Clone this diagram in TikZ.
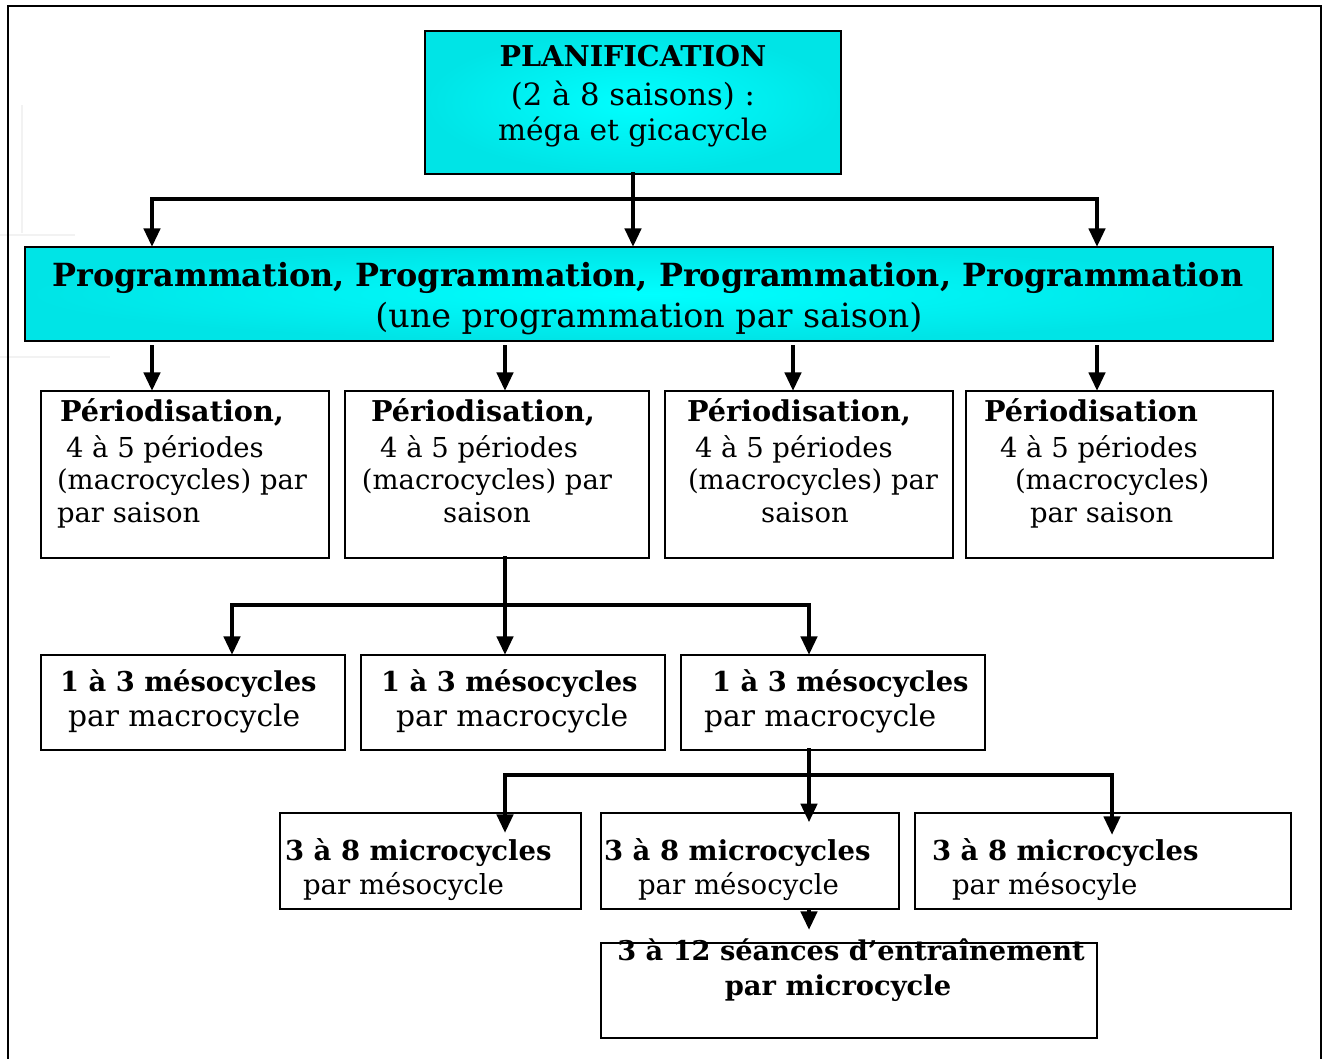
\documentclass[tikz,border=0pt]{standalone}
\usepackage{fontspec}
\setmainfont{DejaVu Serif}
\usetikzlibrary{arrows.meta,fit}
\definecolor{cyanin}{RGB}{0,255,255}
\definecolor{cyanout}{RGB}{0,228,230}
\definecolor{faint}{RGB}{242,242,242}
\begin{document}
\begin{tikzpicture}[x=0.75pt,y=-0.75pt,
  box/.style={draw=black,line width=1.3pt,inner sep=0pt,outer sep=0pt},
  cbox/.style={box,shading=radial,inner color=cyanin,outer color=cyanout},
  tx/.style={inner sep=0pt,outer sep=0pt,yshift=-2.5pt,execute at begin node=\strut},
  B/.style={font=\fontsize{#1}{#1}\selectfont\bfseries},
  R/.style={font=\fontsize{#1}{#1}\selectfont},
  conn/.style={line width=3.6pt,line cap=rect},
  arr/.style={line width=3.3pt,-{Triangle[width=12pt,length=14pt]}}]
\useasboundingbox (0,0) rectangle (1326,1058);
% faint artefacts and frame
\draw[faint,line width=1.5pt] (22,105) -- (22,233) (0,235) -- (75,235) (0,357) -- (110,357);
\draw[line width=1.6pt] (8,1064) -- (8,6) -- (1321,6) -- (1321,1064);

% boxes
\node[cbox,fit={(425,31)(841,174)}] (plan) {};
\node[cbox,fit={(25,247)(1273,341)}] (prog) {};
\node[box,fit={(41,391)(329,558)}] (per1) {};
\node[box,fit={(345,391)(649,558)}] (per2) {};
\node[box,fit={(665,391)(953,558)}] (per3) {};
\node[box,fit={(966,391)(1273,558)}] (per4) {};
\node[box,fit={(41,655)(345,750)}] (meso1) {};
\node[box,fit={(361,655)(665,750)}] (meso2) {};
\node[box,fit={(681,655)(985,750)}] (meso3) {};
\node[box,fit={(280,813)(581,909)}] (micro1) {};
\node[box,fit={(601,813)(899,909)}] (micro2) {};
\node[box,fit={(915,813)(1291,909)}] (micro3) {};
\node[box,fit={(601,943)(1097,1038)}] (seance) {};

% texts
\node[tx,B=21.5] (planA) at (633,57) {PLANIFICATION};
\node[tx,R=23] (planB) at (633,95) {(2 à 8 saisons) :};
\node[tx,R=22.2] (planC) at (633,130) {méga et gicacycle};
\node[tx,B=23.9] (progA) at (648,276) {Programmation, Programmation, Programmation, Programmation};
\node[tx,R=25] (progB) at (649,316) {(une programmation par saison)};

\tikzset{PB/.style={B=21.5},PR/.style={R=20.6},MB/.style={B=20.5},MR/.style={R=22.3},CB/.style={B=20.6},CR/.style={R=20.7}}
\node[tx,PB,anchor=west] (p1a) at (60,411) {Périodisation,};
\node[tx,PR,anchor=west] (p1b) at (66,447) {4 à 5 périodes};
\node[tx,PR,anchor=west] (p1c) at (57,480) {(macrocycles) par};
\node[tx,PR,anchor=west] (p1d) at (57,513) {par saison};
\node[tx,PB] (p2a) at (483,411) {Périodisation,};
\node[tx,PR] (p2b) at (479,447) {4 à 5 périodes};
\node[tx,PR] (p2c) at (487,480) {(macrocycles) par};
\node[tx,PR] (p2d) at (487,513) {saison};
\node[tx,PB,anchor=west] (p3a) at (687,411) {Périodisation,};
\node[tx,PR,anchor=west] (p3b) at (695,447) {4 à 5 périodes};
\node[tx,PR,anchor=west] (p3c) at (688,480) {(macrocycles) par};
\node[tx,PR] (p3d) at (805,513) {saison};
\node[tx,PB,anchor=west] (p4a) at (984,411) {Périodisation};
\node[tx,PR,anchor=west] (p4b) at (1000,447) {4 à 5 périodes};
\node[tx,PR,anchor=west] (p4c) at (1015,480) {(macrocycles)};
\node[tx,PR,anchor=west] (p4d) at (1030,513) {par saison};

\node[tx,MB,anchor=west] (m1a) at (60,681) {1 à 3 mésocycles};
\node[tx,MR,anchor=west] (m1b) at (68,716) {par macrocycle};
\node[tx,MB,anchor=west] (m2a) at (381,681) {1 à 3 mésocycles};
\node[tx,MR,anchor=west] (m2b) at (396,716) {par macrocycle};
\node[tx,MB,anchor=west] (m3a) at (712,681) {1 à 3 mésocycles};
\node[tx,MR,anchor=west] (m3b) at (704,716) {par macrocycle};

\node[tx,CB,anchor=west] (c1a) at (285,850) {3 à 8 microcycles};
\node[tx,CR,anchor=west] (c1b) at (303,884) {par mésocycle};
\node[tx,CB,anchor=west] (c2a) at (604,850) {3 à 8 microcycles};
\node[tx,CR,anchor=west] (c2b) at (638,884) {par mésocycle};
\node[tx,CB,anchor=west] (c3a) at (932,850) {3 à 8 microcycles};
\node[tx,CR,anchor=west] (c3b) at (952,884) {par mésocyle};

\node[tx,B=20.4] (s1) at (851,950) {3 à 12 séances d’entraînement};
\node[tx,B=20.5] (s2) at (838,986) {par microcycle};

% connectors level 1
\coordinate (j1) at (633,199);
\coordinate (j1L) at (152,199);
\coordinate (j1R) at (1097,199);
\draw[conn] (plan.south) -- (j1);
\draw[conn] (j1L) -- (j1R);
\draw[arr] (j1) -- (j1 |- prog.north);
\draw[arr] (j1L) -- (j1L |- prog.north);
\draw[arr] (j1R) -- (j1R |- prog.north);
% level 2
\draw[arr] ([yshift=-3pt]prog.south -| 152,0) -- (per1.north -| 152,0);
\draw[arr] ([yshift=-3pt]prog.south -| 505,0) -- (per2.north -| 505,0);
\draw[arr] ([yshift=-3pt]prog.south -| 793,0) -- (per3.north -| 793,0);
\draw[arr] ([yshift=-3pt]prog.south -| 1097,0) -- (per4.north -| 1097,0);
% level 3
\coordinate (j2) at (505,605);
\coordinate (j2L) at (232,605);
\coordinate (j2R) at (809,605);
\draw[conn] (per2.south -| j2) -- (j2);
\draw[conn] (j2L) -- (j2R);
\draw[arr] (j2L) -- (meso1.north -| j2L);
\draw[arr] (j2) -- (meso2.north -| j2);
\draw[arr] (j2R) -- (meso3.north -| j2R);
% level 4
\coordinate (j3) at (809,775);
\coordinate (j3L) at (505,775);
\coordinate (j3R) at (1112,775);
\draw[conn] (meso3.south -| j3) -- (j3);
\draw[conn] (j3L) -- (j3R);
\draw[arr] (j3L) -- ([yshift=-15pt]micro1.north -| j3L);
\draw[arr] (j3) -- ([yshift=-7pt]micro2.north -| j3);
\draw[arr] (j3R) -- ([yshift=-16.5pt]micro3.north -| j3R);
% level 5
\draw[arr] (micro2.south -| 809,0) -- ([yshift=9.75pt]seance.north -| 809,0);
\end{tikzpicture}
\end{document}
